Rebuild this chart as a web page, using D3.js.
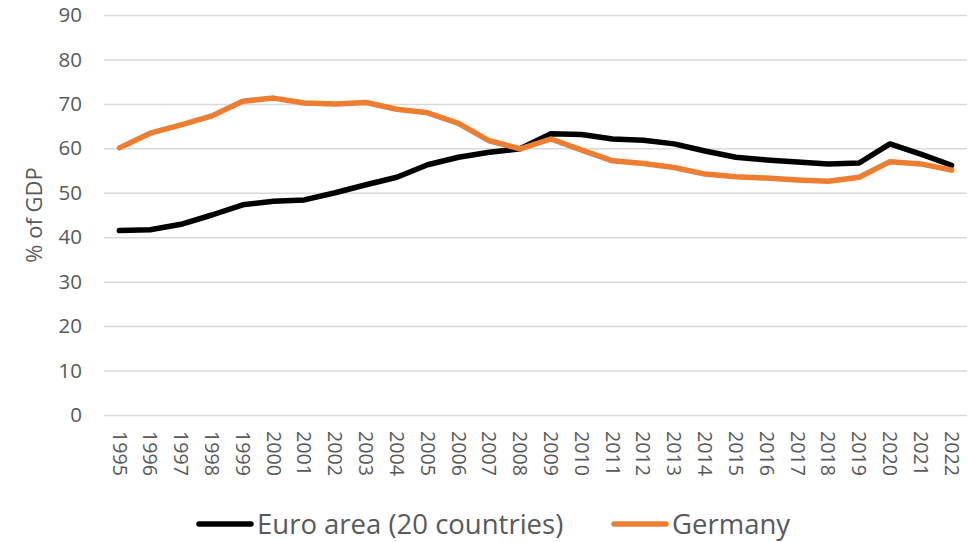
<!DOCTYPE html>
<html>
<head>
<meta charset="utf-8">
<script src="https://cdn.jsdelivr.net/npm/d3@7"></script>
<style>
  body { margin: 0; background: #fff; }
  text { font-family: "Open Sans", sans-serif; fill: #595959; }
</style>
</head>
<body>
<svg id="chart" width="974" height="542"></svg>
<script>
// years along the x axis
var years = [1995, 1996, 1997, 1998, 1999, 2000, 2001, 2002, 2003, 2004,
  2005, 2006, 2007, 2008, 2009, 2010, 2011, 2012, 2013, 2014,
  2015, 2016, 2017, 2018, 2019, 2020, 2021, 2022];

// % of GDP
var euroArea = [41.5, 41.7, 42.9, 45.0, 47.3, 48.1, 48.4, 50.0, 51.8, 53.5,
  56.3, 58.0, 59.1, 59.9, 63.3, 63.1, 62.1, 61.8, 61.0, 59.4,
  58.0, 57.4, 56.9, 56.5, 56.7, 61.0, 58.7, 56.2];
var germany = [60.1, 63.4, 65.3, 67.3, 70.6, 71.3, 70.2, 70.0, 70.3, 68.8,
  68.0, 65.6, 61.7, 59.9, 62.1, 59.6, 57.2, 56.6, 55.7, 54.2,
  53.6, 53.3, 52.9, 52.6, 53.5, 57.0, 56.5, 55.1];

var yTicks = [0, 10, 20, 30, 40, 50, 60, 70, 80, 90];

var series = [
  { name: "Euro area (20 countries)", values: euroArea, color: "#000000" },
  { name: "Germany", values: germany, color: "#ED7D31" }
];

var svg = d3.select("#chart");
var margin = { left: 104, right: 7, top: 15, bottom: 127 };
var width = 974 - margin.left - margin.right;
var height = 542 - margin.top - margin.bottom;

var g = svg.append("g").attr("transform", "translate(" + margin.left + "," + margin.top + ")");

var x = d3.scaleBand().domain(years).range([0, width]);
var y = d3.scaleLinear().domain([0, 90]).range([height, 0]);

// gridlines + y labels
var yAxis = g.append("g")
  .call(d3.axisLeft(y).tickValues(yTicks).tickSize(-width).tickPadding(22));
yAxis.select(".domain").remove();
yAxis.selectAll(".tick line").attr("stroke", "#d9d9d9").attr("stroke-width", 1.5);
yAxis.selectAll(".tick text").style("font-size", "20.5px").attr("fill", "#595959");

// x labels, rotated
var xAxis = g.append("g")
  .attr("transform", "translate(0," + height + ")")
  .call(d3.axisBottom(x).tickSize(0));
xAxis.select(".domain").remove();
xAxis.selectAll(".tick text")
  .style("font-size", "19.7px")
  .attr("fill", "#595959")
  .attr("text-anchor", "start")
  .attr("transform", "rotate(90)")
  .attr("x", 16)
  .attr("y", 0)
  .attr("dy", "0.35em");

// y title
svg.append("text")
  .attr("transform", "translate(34,215) rotate(-90)")
  .attr("text-anchor", "middle")
  .attr("dy", "0.35em")
  .style("font-size", "22px")
  .text("% of GDP");

var line = d3.line()
  .x(function(d, i) { return x(years[i]) + x.bandwidth() / 2; })
  .y(function(d) { return y(d); });

g.selectAll("path.series")
  .data(series)
  .enter().append("path")
  .attr("class", "series")
  .attr("fill", "none")
  .attr("stroke", function(d) { return d.color; })
  .attr("stroke-width", 5.5)
  .attr("stroke-linejoin", "round")
  .attr("stroke-linecap", "round")
  .attr("d", function(d) { return line(d.values); });

// legend
var legendX = [199, 614];
var legend = svg.selectAll("g.legend")
  .data(series)
  .enter().append("g")
  .attr("class", "legend")
  .attr("transform", function(d, i) { return "translate(" + legendX[i] + ",524)"; });
legend.append("line")
  .attr("x1", 0).attr("x2", 52)
  .attr("stroke", function(d) { return d.color; })
  .attr("stroke-width", 5.5)
  .attr("stroke-linecap", "round");
legend.append("text")
  .attr("x", 58)
  .attr("dy", "0.35em")
  .style("font-size", "27.5px")
  .text(function(d) { return d.name; });
</script>
</body>
</html>
